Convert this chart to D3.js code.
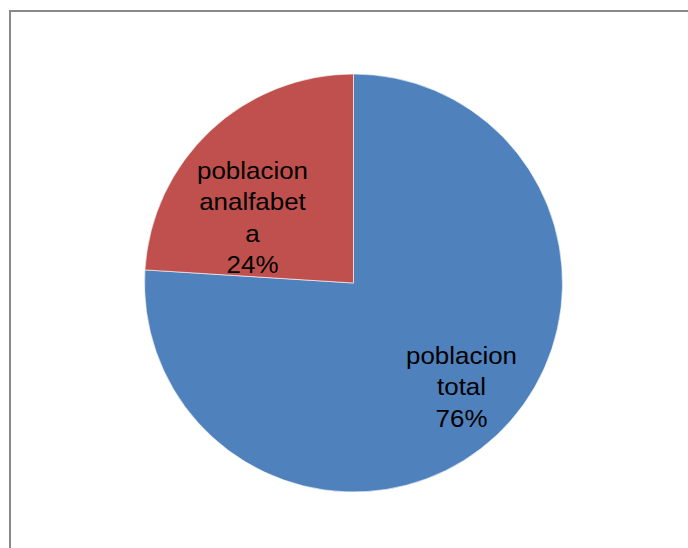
<!DOCTYPE html>
<html>
<head>
<meta charset="utf-8">
<script src="https://cdn.jsdelivr.net/npm/d3@7"></script>
<style>
  html, body { margin: 0; padding: 0; background: #fff; }
  svg { display: block; }
</style>
</head>
<body>
<svg id="chart" width="688" height="548"></svg>
<script>
const categories = ["poblacion total", "poblacion analfabeta"];
const values = [76, 24];
const labelLines = [["poblacion", "total", "76%"], ["poblacion", "analfabet", "a", "24%"]];
const colors = ["#4F81BD", "#C0504D"];

const svg = d3.select("#chart");
const W = 688, H = 548;

// outer chart frame
svg.append("rect")
  .attr("x", 10).attr("y", 11)
  .attr("width", W + 20).attr("height", H + 20)
  .attr("fill", "#fff")
  .attr("stroke", "#898989")
  .attr("stroke-width", 2);

const cx = 353.5, cy = 283, R = 209;
const g = svg.append("g").attr("transform", `translate(${cx},${cy})`);

const pie = d3.pie().sort(null).value(d => d)(values);
const arc = d3.arc().innerRadius(0).outerRadius(R);

g.selectAll("path.slice")
  .data(pie)
  .join("path")
  .attr("class", "slice")
  .attr("d", arc)
  .attr("fill", (d, i) => colors[i])
  .attr("stroke", "#fff")
  .attr("stroke-width", 1)
  .attr("stroke-opacity", 0.6);

// label placement (best-fit style), offsets from the pie centre
const labelPos = [[108, 81], [-101, -104]];
const lineH = 31.3;

g.selectAll("text.lbl")
  .data(pie)
  .join("text")
  .attr("class", "lbl")
  .attr("font-family", "Liberation Sans, Arial, sans-serif")
  .attr("font-size", 24)
  .attr("fill", "#000")
  .attr("text-anchor", "middle")
  .attr("transform", (d, i) => `translate(${labelPos[i][0]},${labelPos[i][1]}) scale(1.08,1)`)
  .each(function(d, i) {
    const t = d3.select(this);
    labelLines[i].forEach((ln, j) => {
      t.append("tspan").attr("x", 0).attr("y", j * lineH).text(ln);
    });
  });
</script>
</body>
</html>
